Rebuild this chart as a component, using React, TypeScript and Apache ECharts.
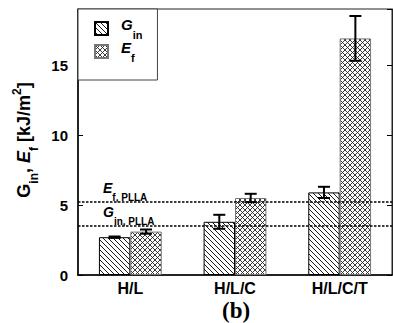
import React, { useEffect, useRef } from "react";
import * as echarts from "echarts";

const categories = ["H/L", "H/L/C", "H/L/C/T"];
const ginValues = [2.7, 3.8, 5.9];
const ginErrors = [0.05, 0.5, 0.4];
const efValues = [3.1, 5.5, 16.9];
const efErrors = [0.15, 0.3, 1.6];
const ginPLLA = 3.5;
const efPLLA = 5.2;
const yMin = 0;
const yMax = 19;
const yInterval = 5;

const FONT = "Liberation Sans, Arial, sans-serif";

function makePattern(cross: boolean, s: number, color: string) {
  const c = document.createElement("canvas");
  c.width = s;
  c.height = s;
  const ctx = c.getContext("2d")!;
  ctx.fillStyle = "#fff";
  ctx.fillRect(0, 0, s, s);
  ctx.strokeStyle = color;
  ctx.lineWidth = 0.9;
  for (let k = -1; k <= 1; k++) {
    ctx.beginPath();
    ctx.moveTo(k * s, 0);
    ctx.lineTo(k * s + s, s);
    ctx.stroke();
    if (cross) {
      ctx.beginPath();
      ctx.moveTo(k * s + s, 0);
      ctx.lineTo(k * s, s);
      ctx.stroke();
    }
  }
  return { image: c, repeat: "repeat", imageWidth: s, imageHeight: s } as any;
}

function errorSeries(name: string, values: number[], errors: number[], offset: number) {
  return {
    name,
    type: "custom",
    z: 10,
    silent: true,
    encode: { x: 0, y: 1 },
    data: values.map((v, i) => [i, v, errors[i]]),
    renderItem: (params: any, api: any) => {
      const ci = api.value(0);
      const v = api.value(1);
      const e = api.value(2);
      const band = api.size([1, 0])[0];
      const x = api.coord([ci, v])[0] + offset * band;
      const yTop = api.coord([ci, v + e])[1];
      const yBot = api.coord([ci, v - e])[1];
      const hw = 6;
      const st = { stroke: "#000", lineWidth: 2 };
      return {
        type: "group",
        children: [
          { type: "line", shape: { x1: x, y1: yTop, x2: x, y2: yBot }, style: st },
          { type: "line", shape: { x1: x - hw, y1: yTop, x2: x + hw, y2: yTop }, style: st },
          { type: "line", shape: { x1: x - hw, y1: yBot, x2: x + hw, y2: yBot }, style: st },
        ],
      };
    },
  };
}

export default function App() {
  const ref = useRef<HTMLDivElement>(null);
  useEffect(() => {
    document.body.style.margin = "0";
    const chart = echarts.init(ref.current!, null, { renderer: "svg" });
    const ginPattern = makePattern(false, 5, "#000");
    const efPattern = makePattern(true, 5, "#222");
    const richMain = { fontFamily: FONT, fontWeight: "bold", fontStyle: "italic", fontSize: 15, color: "#000", verticalAlign: "top", lineHeight: 23 };
    const richSub = { fontFamily: FONT, fontWeight: "bold", fontSize: 11, color: "#000", verticalAlign: "bottom", lineHeight: 23 };
    const option: any = {
      animation: false,
      backgroundColor: "#fff",
      title: {
        text: "(b)",
        left: 222,
        top: 299,
        padding: 0,
        textStyle: { fontFamily: "Liberation Serif, serif", fontWeight: "bold", fontSize: 23, color: "#000" },
      },
      grid: {
        left: 78,
        top: 9,
        right: 1,
        bottom: 48,
        show: true,
        borderColor: "#222",
        borderWidth: 1,
        backgroundColor: "transparent",
      },
      legend: {
        data: ["Gin", "Ef"],
        orient: "vertical",
        left: 78,
        top: 9,
        padding: [8, 15, 17, 16],
        itemGap: 0,
        itemWidth: 13,
        itemHeight: 13,
        icon: "rect",
        borderColor: "#444",
        borderWidth: 1,
        backgroundColor: "#fff",
        formatter: (n: string) => (n === "Gin" ? "{m|G}{s|in}" : "{m|E}{s|f}"),
        textStyle: {
          rich: {
            m: { ...richMain, padding: [0, 0, 0, 8] },
            s: richSub,
          },
        },
      },
      xAxis: [
        {
          type: "category",
          data: categories,
          position: "bottom",
          axisLine: { lineStyle: { color: "#000", width: 1.5 } },
          axisTick: { inside: true, length: 5, lineStyle: { color: "#000" } },
          axisLabel: { fontFamily: FONT, fontWeight: "bold", fontSize: 16, color: "#000", margin: 5 },
        },
        {
          type: "category",
          data: categories,
          position: "top",
          axisLine: { lineStyle: { color: "#222", width: 1 } },
          axisTick: { inside: true, length: 5, lineStyle: { color: "#000" } },
          axisLabel: { show: false },
        },
      ],
      yAxis: [
        {
          type: "value",
          min: yMin,
          max: yMax,
          interval: yInterval,
          position: "left",
          splitLine: { show: false },
          axisLine: { show: true, lineStyle: { color: "#000", width: 1.5 } },
          axisTick: { show: true, inside: true, length: 5, lineStyle: { color: "#000" } },
          axisLabel: {
            fontFamily: FONT,
            fontWeight: "bold",
            fontSize: 15,
            color: "#000",
            margin: 10,
            formatter: (v: number) => (v % yInterval === 0 ? String(v) : ""),
          },
          name: "{g|G}{s|in}{g|, }{e|E}{s|f}{g| [kJ/m}{p|2}{g|]}",
          nameLocation: "middle",
          nameGap: 32,
          nameRotate: 90,
          nameTextStyle: {
            padding: [0, 0, 0, 4],
            rich: {
              g: { fontFamily: FONT, fontWeight: "bold", fontSize: 18, color: "#000", verticalAlign: "top", lineHeight: 25 },
              e: { fontFamily: FONT, fontWeight: "bold", fontStyle: "italic", fontSize: 18, color: "#000", verticalAlign: "top", lineHeight: 25 },
              s: { fontFamily: FONT, fontWeight: "bold", fontSize: 12, color: "#000", verticalAlign: "bottom", lineHeight: 25 },
              p: { fontFamily: FONT, fontWeight: "bold", fontSize: 12, color: "#000", verticalAlign: "top", lineHeight: 25, padding: [-4, 0, 0, 0] },
            },
          },
        },
        {
          type: "value",
          min: yMin,
          max: yMax,
          interval: yInterval,
          position: "right",
          splitLine: { show: false },
          axisLine: { show: true, lineStyle: { color: "#222", width: 1 } },
          axisTick: { show: true, inside: true, length: 5, lineStyle: { color: "#000" } },
          axisLabel: { show: false },
        },
      ],
      series: [
        {
          name: "Gin",
          type: "bar",
          data: ginValues,
          barGap: "0%",
          barCategoryGap: "40%",
          itemStyle: { color: ginPattern, borderColor: "#000", borderWidth: 1 },
          markLine: {
            silent: true,
            symbol: "none",
            lineStyle: { color: "#000", width: 1.6, type: [2.5, 1.5] },
            label: {
              position: "insideStartTop",
              distance: [25, 0],
              rich: {
                m: { fontFamily: FONT, fontWeight: "bold", fontStyle: "italic", fontSize: 14, color: "#000", verticalAlign: "top", lineHeight: 21 },
                s: { fontFamily: FONT, fontWeight: "bold", fontSize: 10, color: "#000", verticalAlign: "bottom", lineHeight: 21 },
              },
            },
            data: [
              { yAxis: efPLLA, label: { formatter: "{m|E}{s|f, PLLA}" } },
              { yAxis: ginPLLA, label: { formatter: "{m|G}{s|in, PLLA}" } },
            ],
          },
        },
        {
          name: "Ef",
          type: "bar",
          data: efValues,
          barGap: "0%",
          barCategoryGap: "40%",
          itemStyle: { color: efPattern, borderColor: "#777", borderWidth: 1 },
        },
        errorSeries("GinErr", ginValues, ginErrors, -0.15),
        errorSeries("EfErr", efValues, efErrors, 0.15),
      ],
    };
    chart.setOption(option);
    return () => chart.dispose();
  }, []);
  return <div ref={ref} style={{ position: "absolute", left: 0, top: 0, width: 393, height: 323 }} />;
}
